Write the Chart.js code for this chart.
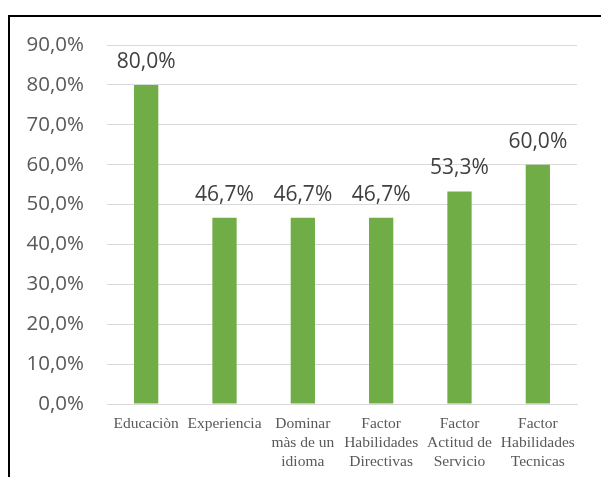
<!DOCTYPE html>
<html>
<head>
<meta charset="utf-8">
<script src="https://cdn.jsdelivr.net/npm/chart.js@4"></script>
<style>
  html, body { margin: 0; padding: 0; background: #fff; }
  #wrap { position: relative; width: 601px; height: 477px; overflow: hidden; }
  #frame { position: absolute; left: 8px; top: 15px; right: -10px; bottom: -10px;
           border-left: 2px solid #000; border-top: 2px solid #000; }
  canvas { position: absolute; left: 0; top: 0; }
</style>
</head>
<body>
<div id="wrap">
  <div id="frame"></div>
  <canvas id="chart" width="601" height="477"></canvas>
</div>
<script>
const categories = [
    ['Educaciòn'],
    ['Experiencia'],
    ['Dominar', 'màs de un', 'idioma'],
    ['Factor', 'Habilidades', 'Directivas'],
    ['Factor', 'Actitud de', 'Servicio'],
    ['Factor', 'Habilidades', 'Tecnicas']
];
const values = [80.0, 46.7, 46.7, 46.7, 53.3, 60.0];
const yTicks = [0, 10, 20, 30, 40, 50, 60, 70, 80, 90];

function pct(v) {
    return v.toFixed(1).replace('.', ',') + '%';
}

// etiquetas de valor encima de cada barra
const barLabels = {
    id: 'barLabels',
    afterDatasetsDraw(chart) {
        const ctx = chart.ctx;
        const meta = chart.getDatasetMeta(0);
        ctx.save();
        ctx.font = '21px "Open Sans"';
        ctx.fillStyle = '#404040';
        ctx.textAlign = 'center';
        ctx.textBaseline = 'alphabetic';
        meta.data.forEach((bar, i) => {
            ctx.fillText(pct(values[i]), bar.x, bar.y - 17);
        });
        ctx.restore();
    }
};

new Chart(document.getElementById('chart'), {
    type: 'bar',
    data: {
        labels: categories,
        datasets: [{
            data: values,
            backgroundColor: '#70AD47',
            barPercentage: 0.62,
            categoryPercentage: 0.5
        }]
    },
    options: {
        responsive: false,
        animation: false,
        layout: { padding: { top: 45, right: 24, left: 0, bottom: 0 } },
        plugins: {
            legend: { display: false },
            tooltip: { enabled: false }
        },
        scales: {
            x: {
                grid: { display: false, drawTicks: false },
                border: { color: '#D9D9D9', width: 1 },
                afterFit(scale) { scale.height = 73; },
                ticks: {
                    padding: 11,
                    maxRotation: 0,
                    autoSkip: false,
                    color: '#595959',
                    font: { family: '"Liberation Serif"', size: 15.5, lineHeight: 1.2 }
                }
            },
            y: {
                min: 0,
                max: 90,
                afterFit(scale) { scale.width = 107; },
                afterBuildTicks(scale) { scale.ticks = yTicks.map(v => ({ value: v })); },
                grid: { color: '#D9D9D9', drawTicks: false },
                border: { display: false },
                ticks: {
                    padding: 23,
                    color: '#595959',
                    font: { family: '"Open Sans"', size: 20.5 },
                    callback: v => pct(v)
                }
            }
        }
    },
    plugins: [barLabels]
});
</script>
</body>
</html>
